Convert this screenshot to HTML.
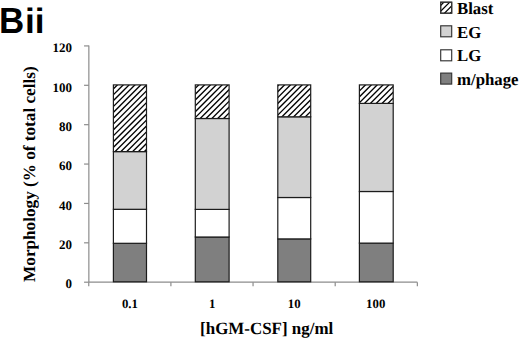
<!DOCTYPE html>
<html><head><meta charset="utf-8"><style>
html,body{margin:0;padding:0;background:#fff;}
body{width:520px;height:339px;overflow:hidden;position:relative;}
svg{position:absolute;left:0;top:0;text-rendering:geometricPrecision;}
.s{font-family:"Liberation Serif",serif;font-weight:bold;fill:#000;}
.a{font-family:"Liberation Sans",sans-serif;font-weight:bold;fill:#000;}
</style></head><body>
<svg width="520" height="339" viewBox="0 0 520 339">


<text class="a" font-size="36.4" transform="translate(-1.1,33.3) scale(0.96,1)">B</text>
<text class="a" font-size="35.2" x="25.0" y="33.3">ii</text>
<g stroke="#8c8c8c" stroke-width="1.20" fill="none">
<line x1="88.85" y1="45.40" x2="88.85" y2="282.20"/>
<line x1="88.85" y1="282.20" x2="417.35" y2="282.20"/>
<line x1="84.05" y1="282.20" x2="88.85" y2="282.20"/>
<line x1="84.05" y1="242.82" x2="88.85" y2="242.82"/>
<line x1="84.05" y1="203.44" x2="88.85" y2="203.44"/>
<line x1="84.05" y1="164.06" x2="88.85" y2="164.06"/>
<line x1="84.05" y1="124.68" x2="88.85" y2="124.68"/>
<line x1="84.05" y1="85.30" x2="88.85" y2="85.30"/>
<line x1="84.05" y1="45.92" x2="88.85" y2="45.92"/>
<line x1="88.75" y1="282.20" x2="88.75" y2="286.20"/>
<line x1="170.90" y1="282.20" x2="170.90" y2="286.20"/>
<line x1="253.05" y1="282.20" x2="253.05" y2="286.20"/>
<line x1="335.20" y1="282.20" x2="335.20" y2="286.20"/>
<line x1="417.35" y1="282.20" x2="417.35" y2="286.20"/>
</g>
<text class="s" x="72.00" y="288.40" font-size="13.00" text-anchor="end">0</text>
<text class="s" x="72.00" y="249.02" font-size="13.00" text-anchor="end">20</text>
<text class="s" x="72.00" y="209.64" font-size="13.00" text-anchor="end">40</text>
<text class="s" x="72.00" y="170.26" font-size="13.00" text-anchor="end">60</text>
<text class="s" x="72.00" y="130.88" font-size="13.00" text-anchor="end">80</text>
<text class="s" x="72.00" y="91.50" font-size="13.00" text-anchor="end">100</text>
<text class="s" x="72.00" y="52.12" font-size="13.00" text-anchor="end">120</text>
<rect x="113.40" y="243.30" width="33.10" height="38.50" fill="#7f7f7f" stroke="#1c1c1c" stroke-width="1.20"/>
<rect x="113.40" y="209.30" width="33.10" height="34.00" fill="#fff" stroke="#1c1c1c" stroke-width="1.20"/>
<rect x="113.40" y="151.60" width="33.10" height="57.70" fill="#d2d2d2" stroke="#1c1c1c" stroke-width="1.20"/>
<clipPath id="c0"><rect x="113.40" y="84.90" width="33.10" height="66.70"/></clipPath>
<rect x="113.40" y="84.90" width="33.10" height="66.70" fill="#fff"/>
<g clip-path="url(#c0)" stroke="#000" stroke-width="1.35">
<line x1="47.70" y1="154.60" x2="120.40" y2="81.90"/>
<line x1="53.55" y1="154.60" x2="126.25" y2="81.90"/>
<line x1="59.40" y1="154.60" x2="132.10" y2="81.90"/>
<line x1="65.25" y1="154.60" x2="137.95" y2="81.90"/>
<line x1="71.10" y1="154.60" x2="143.80" y2="81.90"/>
<line x1="76.95" y1="154.60" x2="149.65" y2="81.90"/>
<line x1="82.80" y1="154.60" x2="155.50" y2="81.90"/>
<line x1="88.65" y1="154.60" x2="161.35" y2="81.90"/>
<line x1="94.50" y1="154.60" x2="167.20" y2="81.90"/>
<line x1="100.35" y1="154.60" x2="173.05" y2="81.90"/>
<line x1="106.20" y1="154.60" x2="178.90" y2="81.90"/>
<line x1="112.05" y1="154.60" x2="184.75" y2="81.90"/>
<line x1="117.90" y1="154.60" x2="190.60" y2="81.90"/>
<line x1="123.75" y1="154.60" x2="196.45" y2="81.90"/>
<line x1="129.60" y1="154.60" x2="202.30" y2="81.90"/>
<line x1="135.45" y1="154.60" x2="208.15" y2="81.90"/>
<line x1="141.30" y1="154.60" x2="214.00" y2="81.90"/>
</g>
<rect x="113.40" y="84.90" width="33.10" height="66.70" fill="none" stroke="#1c1c1c" stroke-width="1.20"/>
<text class="s" x="129.95" y="307.60" font-size="12.80" text-anchor="middle">0.1</text>
<rect x="195.30" y="237.00" width="33.80" height="44.80" fill="#7f7f7f" stroke="#1c1c1c" stroke-width="1.20"/>
<rect x="195.30" y="209.40" width="33.80" height="27.60" fill="#fff" stroke="#1c1c1c" stroke-width="1.20"/>
<rect x="195.30" y="118.50" width="33.80" height="90.90" fill="#d2d2d2" stroke="#1c1c1c" stroke-width="1.20"/>
<clipPath id="c1"><rect x="195.30" y="84.90" width="33.80" height="33.60"/></clipPath>
<rect x="195.30" y="84.90" width="33.80" height="33.60" fill="#fff"/>
<g clip-path="url(#c1)" stroke="#000" stroke-width="1.35">
<line x1="162.10" y1="121.50" x2="201.70" y2="81.90"/>
<line x1="167.95" y1="121.50" x2="207.55" y2="81.90"/>
<line x1="173.80" y1="121.50" x2="213.40" y2="81.90"/>
<line x1="179.65" y1="121.50" x2="219.25" y2="81.90"/>
<line x1="185.50" y1="121.50" x2="225.10" y2="81.90"/>
<line x1="191.35" y1="121.50" x2="230.95" y2="81.90"/>
<line x1="197.20" y1="121.50" x2="236.80" y2="81.90"/>
<line x1="203.05" y1="121.50" x2="242.65" y2="81.90"/>
<line x1="208.90" y1="121.50" x2="248.50" y2="81.90"/>
<line x1="214.75" y1="121.50" x2="254.35" y2="81.90"/>
<line x1="220.60" y1="121.50" x2="260.20" y2="81.90"/>
<line x1="226.45" y1="121.50" x2="266.05" y2="81.90"/>
</g>
<rect x="195.30" y="84.90" width="33.80" height="33.60" fill="none" stroke="#1c1c1c" stroke-width="1.20"/>
<text class="s" x="212.20" y="307.60" font-size="12.80" text-anchor="middle">1</text>
<rect x="277.80" y="238.90" width="32.90" height="42.90" fill="#7f7f7f" stroke="#1c1c1c" stroke-width="1.20"/>
<rect x="277.80" y="197.50" width="32.90" height="41.40" fill="#fff" stroke="#1c1c1c" stroke-width="1.20"/>
<rect x="277.80" y="116.80" width="32.90" height="80.70" fill="#d2d2d2" stroke="#1c1c1c" stroke-width="1.20"/>
<clipPath id="c2"><rect x="277.80" y="84.90" width="32.90" height="31.90"/></clipPath>
<rect x="277.80" y="84.90" width="32.90" height="31.90" fill="#fff"/>
<g clip-path="url(#c2)" stroke="#000" stroke-width="1.35">
<line x1="243.85" y1="119.80" x2="281.75" y2="81.90"/>
<line x1="249.70" y1="119.80" x2="287.60" y2="81.90"/>
<line x1="255.55" y1="119.80" x2="293.45" y2="81.90"/>
<line x1="261.40" y1="119.80" x2="299.30" y2="81.90"/>
<line x1="267.25" y1="119.80" x2="305.15" y2="81.90"/>
<line x1="273.10" y1="119.80" x2="311.00" y2="81.90"/>
<line x1="278.95" y1="119.80" x2="316.85" y2="81.90"/>
<line x1="284.80" y1="119.80" x2="322.70" y2="81.90"/>
<line x1="290.65" y1="119.80" x2="328.55" y2="81.90"/>
<line x1="296.50" y1="119.80" x2="334.40" y2="81.90"/>
<line x1="302.35" y1="119.80" x2="340.25" y2="81.90"/>
<line x1="308.20" y1="119.80" x2="346.10" y2="81.90"/>
</g>
<rect x="277.80" y="84.90" width="32.90" height="31.90" fill="none" stroke="#1c1c1c" stroke-width="1.20"/>
<text class="s" x="294.25" y="307.60" font-size="12.80" text-anchor="middle">10</text>
<rect x="359.40" y="243.10" width="33.80" height="38.70" fill="#7f7f7f" stroke="#1c1c1c" stroke-width="1.20"/>
<rect x="359.40" y="191.50" width="33.80" height="51.60" fill="#fff" stroke="#1c1c1c" stroke-width="1.20"/>
<rect x="359.40" y="103.40" width="33.80" height="88.10" fill="#d2d2d2" stroke="#1c1c1c" stroke-width="1.20"/>
<clipPath id="c3"><rect x="359.40" y="84.90" width="33.80" height="18.50"/></clipPath>
<rect x="359.40" y="84.90" width="33.80" height="18.50" fill="#fff"/>
<g clip-path="url(#c3)" stroke="#000" stroke-width="1.35">
<line x1="338.15" y1="106.40" x2="362.65" y2="81.90"/>
<line x1="344.00" y1="106.40" x2="368.50" y2="81.90"/>
<line x1="349.85" y1="106.40" x2="374.35" y2="81.90"/>
<line x1="355.70" y1="106.40" x2="380.20" y2="81.90"/>
<line x1="361.55" y1="106.40" x2="386.05" y2="81.90"/>
<line x1="367.40" y1="106.40" x2="391.90" y2="81.90"/>
<line x1="373.25" y1="106.40" x2="397.75" y2="81.90"/>
<line x1="379.10" y1="106.40" x2="403.60" y2="81.90"/>
<line x1="384.95" y1="106.40" x2="409.45" y2="81.90"/>
<line x1="390.80" y1="106.40" x2="415.30" y2="81.90"/>
</g>
<rect x="359.40" y="84.90" width="33.80" height="18.50" fill="none" stroke="#1c1c1c" stroke-width="1.20"/>
<text class="s" x="375.70" y="307.60" font-size="12.80" text-anchor="middle">100</text>
<text class="s" font-size="17.20" transform="translate(200.10,333.90) scale(0.9850,1)">[hGM-CSF] ng/ml</text>
<text class="s" font-size="17.00" transform="translate(34.80,281.90) rotate(-90) scale(1.0100,1)">Morphology (% of total cells)</text>
<rect x="440.70" y="2.20" width="11" height="11" fill="#fff" stroke="#333" stroke-width="1.15"/>
<clipPath id="cl"><rect x="440.70" y="2.20" width="11" height="11"/></clipPath>
<g clip-path="url(#cl)" stroke="#000" stroke-width="1.2">
<line x1="429.90" y1="16.20" x2="446.90" y2="-0.80"/>
<line x1="435.70" y1="16.20" x2="452.70" y2="-0.80"/>
<line x1="441.50" y1="16.20" x2="458.50" y2="-0.80"/>
<line x1="447.30" y1="16.20" x2="464.30" y2="-0.80"/>
</g>
<rect x="440.70" y="2.20" width="11" height="11" fill="none" stroke="#333" stroke-width="1.15"/>
<text class="s" x="457.00" y="13.90" font-size="16.80">Blast</text>
<rect x="440.70" y="25.80" width="11" height="11" fill="#d2d2d2" stroke="#333" stroke-width="1.15"/>
<text class="s" x="457.00" y="37.60" font-size="16.80">EG</text>
<rect x="440.70" y="49.80" width="11" height="11" fill="#fff" stroke="#333" stroke-width="1.15"/>
<text class="s" x="457.00" y="61.40" font-size="16.80">LG</text>
<rect x="440.70" y="73.10" width="11" height="11" fill="#7f7f7f" stroke="#333" stroke-width="1.15"/>
<text class="s" x="457.00" y="84.80" font-size="16.80">m/phage</text>
</svg></body></html>
